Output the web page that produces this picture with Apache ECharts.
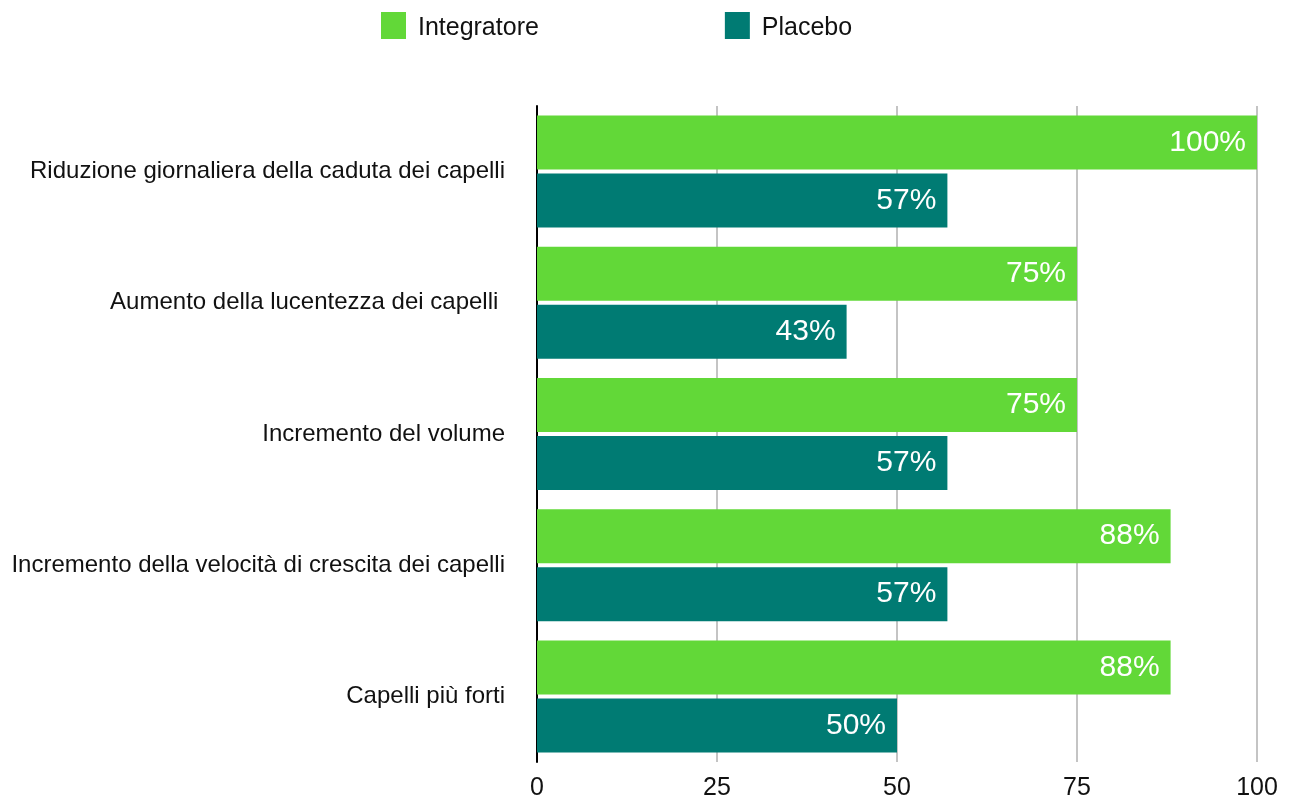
<!DOCTYPE html>
<html>
<head>
<meta charset="utf-8">
<script src="https://cdn.jsdelivr.net/npm/echarts@6/dist/echarts.min.js"></script>
<style>
  html, body { margin: 0; padding: 0; background: #fff; }
  #main { width: 1290px; height: 802px; }
</style>
</head>
<body>
<div id="main"></div>
<script>
// categories, top to bottom
var categories = [
    'Riduzione giornaliera della caduta dei capelli',
    'Aumento della lucentezza dei capelli ',
    'Incremento del volume',
    'Incremento della velocità di crescita dei capelli',
    'Capelli più forti'
];
var integratore = [100, 75, 75, 88, 88];
var placebo = [57, 43, 57, 57, 50];

var font = '"Liberation Sans", Helvetica, Arial, sans-serif';

var chart = echarts.init(document.getElementById('main'));

var barLabel = {
    show: true,
    position: 'insideRight',
    distance: 11,
    color: '#fff',
    fontSize: 30,
    fontFamily: font,
    padding: [4, 0, 0, 0],
    formatter: '{c}%'
};

chart.setOption({
    animation: false,
    textStyle: { fontFamily: font },
    legend: {
        left: 381,
        top: 12,
        padding: 0,
        itemWidth: 25,
        itemHeight: 27,
        itemGap: 186,
        icon: 'rect',
        formatter: function (name) { return '{t| ' + name + '}'; },
        textStyle: {
            fontSize: 25,
            color: '#111',
            rich: { t: { fontSize: 25, color: '#111', padding: [6, 0, 0, 0] } }
        },
        data: ['Integratore', 'Placebo']
    },
    grid: {
        left: 537,
        right: 33,
        top: 106,
        bottom: 40,
        containLabel: false
    },
    xAxis: {
        type: 'value',
        min: 0,
        max: 100,
        interval: 25,
        axisLine: { show: false },
        axisTick: { show: false },
        axisLabel: { fontSize: 25, color: '#111', margin: 14 },
        splitLine: { lineStyle: { color: '#c4c4c4', width: 2 } }
    },
    yAxis: {
        type: 'category',
        inverse: true,
        data: categories,
        axisLine: { show: true, lineStyle: { color: '#000', width: 2 } },
        axisTick: { show: false },
        axisLabel: { fontSize: 24, color: '#111', margin: 32 }
    },
    series: [{
        name: 'Integratore',
        type: 'bar',
        data: integratore,
        barWidth: 54,
        barGap: '7.4%',
        itemStyle: { color: '#62d838' },
        label: barLabel
    }, {
        name: 'Placebo',
        type: 'bar',
        data: placebo,
        barWidth: 54,
        itemStyle: { color: '#007b73' },
        label: barLabel
    }]
});
</script>
</body>
</html>
